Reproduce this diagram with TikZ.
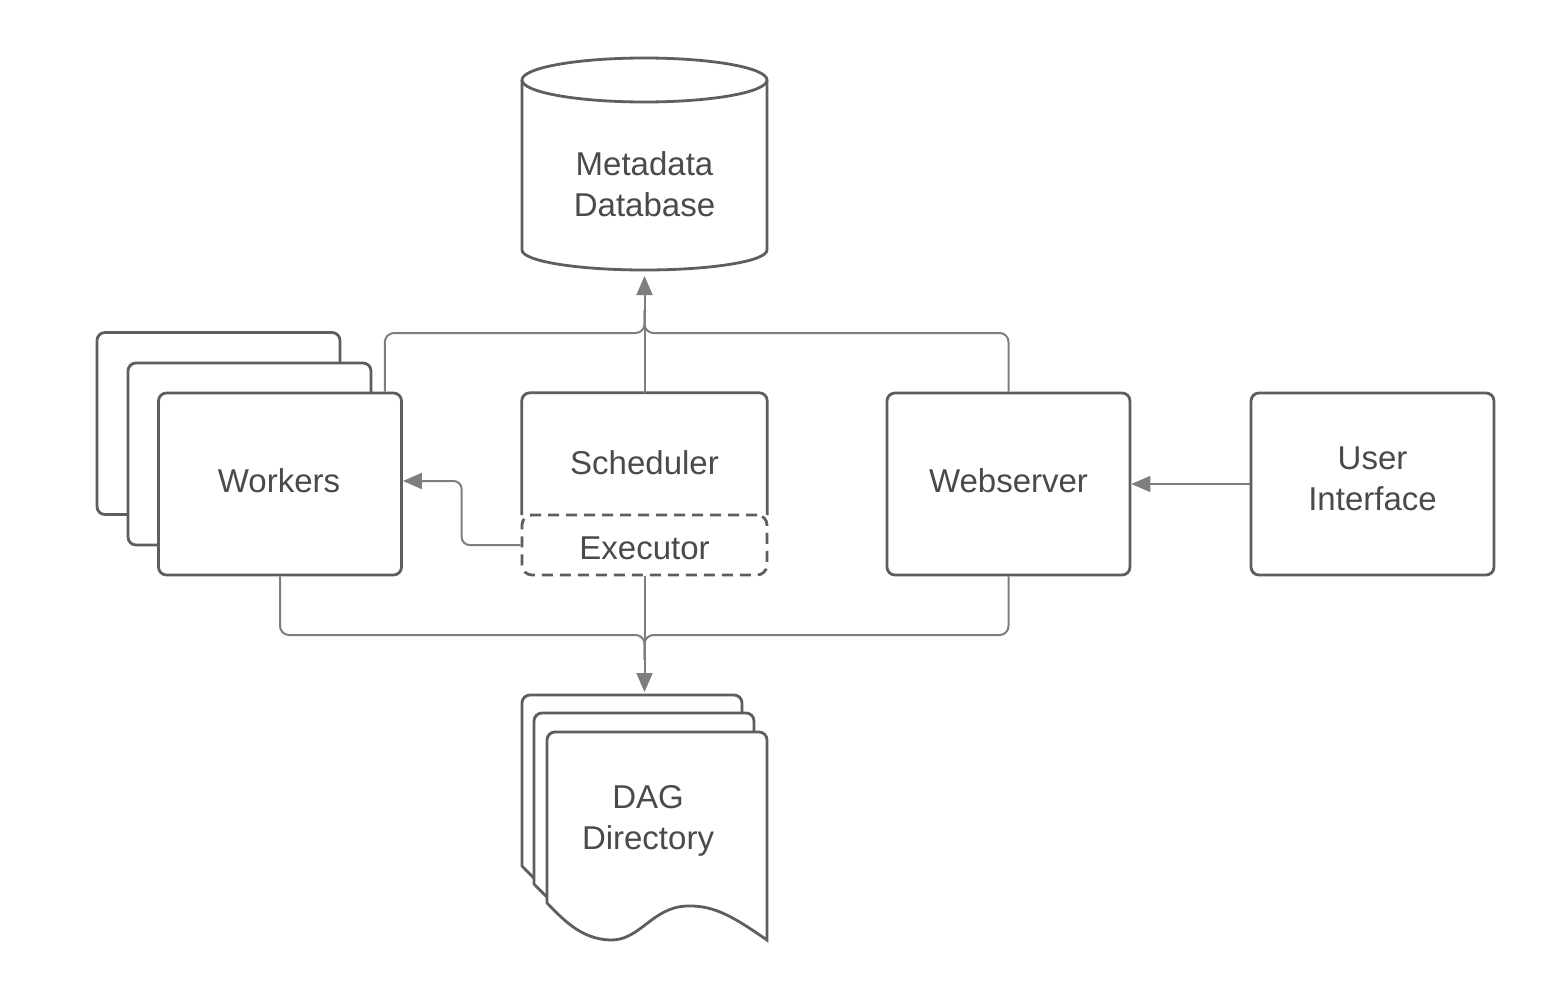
\documentclass[tikz,border=0pt]{standalone}
\usepackage{fontspec}
\setmainfont{Liberation Sans}
\usetikzlibrary{arrows.meta,calc}
\definecolor{boxgray}{HTML}{5E5E5E}
\definecolor{conngray}{HTML}{7E7E7E}
\definecolor{textgray}{HTML}{4A4A4A}
\tikzset{
  box/.style={draw=boxgray, line width=2.8pt, fill=white},
  rbox/.style={box, rounded corners=8pt, minimum width=243pt, minimum height=182pt, inner sep=0pt},
  plain/.style={inner sep=0pt},
  txt/.style={font=\fontsize{33}{41}\selectfont, text=textgray, align=center, inner sep=0pt},
  conn/.style={draw=conngray, line width=2pt},
  arr/.style={-{Triangle[length=19pt,width=16pt]}},
}
\begin{document}
\begin{tikzpicture}[x=1pt,y=-1pt]
\useasboundingbox[fill=white] (0,0) rectangle (1546,998);

% Workers stack
\node[rbox] (workers3) at (218.5,423.5) {};
\node[rbox] (workers2) at (249.5,454) {};
\node[rbox] (workers) at (280,484) {};
\node[txt] (workerstxt) at (279,481) {Workers};

% Scheduler + Executor
\node[plain, minimum width=245pt, minimum height=122pt] (sched) at (644.5,454) {};
\draw[box, fill=none, rounded corners=8pt] (sched.south west) -- (sched.north west) -- (sched.north east) -- (sched.south east);
\node[txt] (schedtxt) at (644.5,463) {Scheduler};
\node[box, dashed, dash pattern=on 11pt off 7pt, fill=none, rounded corners=10pt, minimum width=245pt, minimum height=60pt, inner sep=0pt] (exec) at (644.5,545) {};
\node[txt] (exectxt) at (644.5,548) {Executor};

% Webserver and UI
\node[rbox] (web) at (1008.5,484) {};
\node[txt] (webtxt) at (1008.5,481) {Webserver};
\node[rbox] (ui) at (1372.5,484) {};
\node[txt] (uitxt) at (1372.5,479) {User\\Interface};

% Metadata database cylinder
\draw[box] (522,80) -- (522,250) arc[start angle=180, end angle=360, x radius=122.5pt, y radius=20pt] -- (767,80);
\draw[box] (644.5,80) ellipse[x radius=122.5pt, y radius=22pt];
\node[txt] (db) at (644.5,184) {Metadata\\Database};
\coordinate (dbbot) at (644.5,276);

% DAG directory stack
\foreach \dx/\dy in {-25/-37, -13/-19, 0/0} {
  \begin{scope}[shift={(\dx,\dy)}]
    \draw[box] (547,903) [rounded corners=8pt] -- (547,732) -- (767,732) [sharp corners] -- (767,940)
      .. controls (735,918) and (715,905) .. (687,906)
      .. controls (652,907) and (640,941) .. (610,940)
      .. controls (580,939) and (562,918) .. (547,903) -- cycle;
  \end{scope}
}
\node[txt] (dag) at (648,821) {DAG\\Directory};
\coordinate (dagtop) at (644.5,692);

% Connectors
\draw[conn, arr] (sched.north) -- (dbbot);
\draw[conn, rounded corners=9pt] ([xshift=-18pt]workers.north east) |- (644.5,333) -- (644.5,310);
\draw[conn, rounded corners=9pt] (web.north) |- (644.5,333) -- (644.5,310);

\draw[conn, arr] (exec.south) -- (dagtop);
\draw[conn, rounded corners=9pt] (workers.south) |- (644.5,635) -- (644.5,660);
\draw[conn, rounded corners=9pt] (web.south) |- (644.5,635) -- (644.5,660);

\draw[conn, arr, rounded corners=8pt] (exec.west) -- ++(-59,0) |- ([yshift=3pt]workers.east);
\draw[conn, arr] (ui.west) -- (web.east);
\end{tikzpicture}
\end{document}
